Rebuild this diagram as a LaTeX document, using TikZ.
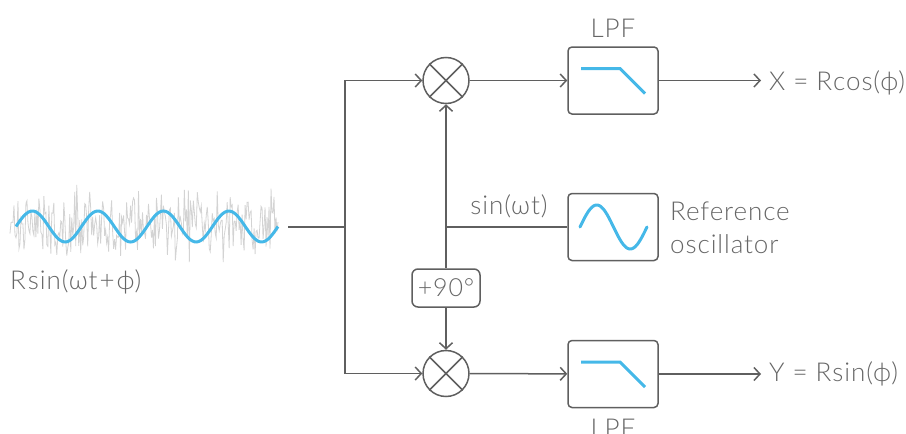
\documentclass[tikz,border=0pt]{standalone}
\usepackage{fontspec}
\setmainfont{Lato}[UprightFont=* Light,LetterSpace=3.5]
\usetikzlibrary{arrows.meta,positioning}
\definecolor{wire}{HTML}{5F5F5F}
\definecolor{labelgray}{HTML}{666666}
\definecolor{skyblue}{HTML}{45B8E8}
\definecolor{noisegray}{HTML}{D3D3D3}
\tikzset{
  wirepath/.style={draw=wire,line width=1.5pt},
  arrowpath/.style={wirepath,-{Straight Barb[length=6pt,width=13pt,line width=1.5pt]}},
  blockbox/.style={draw=wire,line width=1.5pt,rounded corners=4pt,minimum width=90pt,minimum height=67pt,inner sep=0pt},
  mixer/.style={circle,draw=wire,line width=1.5pt,minimum size=46pt,inner sep=0pt},
  phasebox/.style={draw=wire,line width=1.5pt,rounded corners=6pt,minimum width=68pt,minimum height=38pt,inner sep=0pt,text=labelgray,font=\fontsize{25}{30}\selectfont},
  txt/.style={text=labelgray,inner sep=0pt,font=\fontsize{26}{33}\selectfont},
  blueline/.style={draw=skyblue,line width=3pt},
}
\begin{document}
\begin{tikzpicture}[x=1pt,y=-1pt]
\clip (0,0) rectangle (906,434);
\pgfmathsetseed{4711}
% signal
\draw[noisegray,line width=0.8pt] plot[samples=270,domain=10:278] (\x,{max(min(225+rand*(24+26*rnd*rnd),262),185)});
\draw[blueline,smooth] plot[samples=120,domain=16:278] (\x,{226.5-15.5*sin(5.496*(\x-16))});
\node (sig) [txt,anchor=west] at (10,282) {R\kern2pt sin(ωt\kern2pt+\kern2ptϕ)};
% blocks
\node (m1) [mixer] at (446,80.5) {};
\node (m2) [mixer] at (446,373.5) {};
\node (f1) [blockbox] at (613,80.5) {};
\node (f2) [blockbox] at (613,374) {};
\node (osc) [blockbox] at (613,227) {};
\node (ph) [phasebox] at (446,288) {+90°};
\draw[wire,line width=1.5pt] (m1.45) -- (m1.225) (m1.135) -- (m1.315);
\draw[wire,line width=1.5pt] (m2.45) -- (m2.225) (m2.135) -- (m2.315);
% icons
\draw[blueline] ([shift={(-32,-12)}]f1.center) -- ++(39,0) -- ++(25,25);
\draw[blueline] ([shift={(-32,-12)}]f2.center) -- ++(39,0) -- ++(25,25);
\draw[blueline,line cap=round,smooth] plot[samples=60,domain=580:647] (\x,{227-22*sin(5.373*(\x-580))});
% labels
\node (l1) [txt] at (613,28) {LPF};
\node (l2) [txt] at (613,428) {LPF};
\node (wt) [txt] at (509,206) {sin(ωt)};
\node (ref) [txt,anchor=west,align=left] at (670,227.5) {Reference\\oscillator};
\node (xo) [txt,anchor=west] at (769,83) {X = R\kern1pt cos(ϕ)};
\node (yo) [txt,anchor=west] at (769,374) {Y = R\kern1pt sin(ϕ)};
% wires
\coordinate (in) at (288,227);
\coordinate (jn) at (345,227);
\coordinate (tap) at (446,227);
\coordinate (xe) at (761,80.5);
\coordinate (ye) at (761,374);
\draw[wirepath] (in) -- (jn);
\draw[arrowpath] (jn) |- (m1.west);
\draw[arrowpath] (jn) |- (m2.west);
\draw[arrowpath] (m1) -- (f1);
\draw[arrowpath] (m2) -- (f2);
\draw[arrowpath] (f1) -- (xe);
\draw[arrowpath] (f2) -- (ye);
\draw[wirepath] (osc) -- (tap);
\draw[arrowpath] (tap) -- (m1);
\draw[wirepath] (tap) -- (ph);
\draw[arrowpath] (ph) -- (m2);
\end{tikzpicture}
\end{document}
